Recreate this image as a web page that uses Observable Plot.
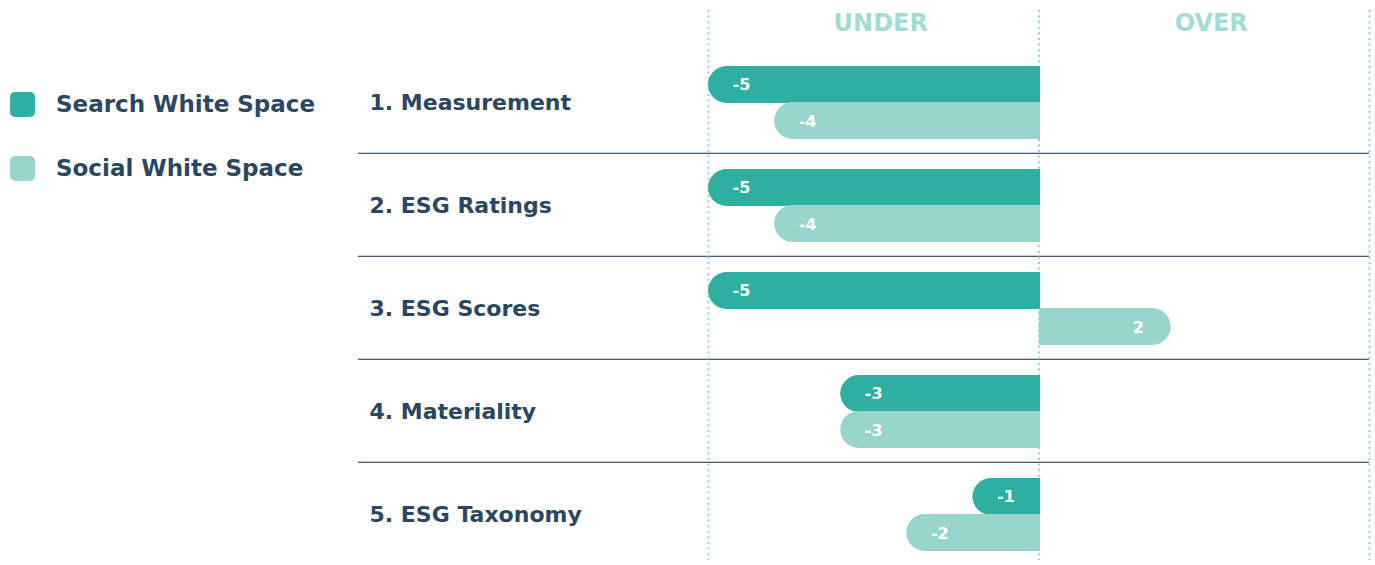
<!DOCTYPE html>
<html><head><meta charset="utf-8">
<script src="https://cdn.jsdelivr.net/npm/d3@7"></script>
<script src="https://cdn.jsdelivr.net/npm/@observablehq/plot@0.6"></script>
<style>
body{margin:0;background:#fff;font-family:"DejaVu Sans", sans-serif;}
#wrap{position:relative;width:1375px;height:565px;overflow:hidden;}
#chart{position:absolute;left:0;top:0;}
#legend{position:absolute;left:10px;top:0;}
.item{position:absolute;left:0;display:flex;align-items:center;white-space:nowrap;font-weight:700;font-size:23px;color:#2B4760;height:26px;}
.sw{width:25px;height:25px;border-radius:5px;margin-right:21px;flex:none;}
</style></head><body>
<div id="wrap"><div id="chart"></div><div id="legend"></div></div>
<script>
const categories = ["1. Measurement","2. ESG Ratings","3. ESG Scores","4. Materiality","5. ESG Taxonomy"];
const seriesNames = ["Search White Space","Social White Space"];
const searchValues = [-5,-5,-5,-3,-1];
const socialValues = [-4,-4,2,-3,-2];
const sideLabels = ["UNDER","OVER"];
const sideCenters = [-2.5, 2.5];
const gridValues = [-5, 0, 5];

const colors = ["#2EAFA2", "#97D5CD"];
const navy = "#2B4760";

const rows = categories.flatMap((c, i) => [
  {category: c, series: seriesNames[0], value: searchValues[i]},
  {category: c, series: seriesNames[1], value: socialValues[i]}
]);
const dark = rows.filter(d => d.series === seriesNames[0]);
const light = rows.filter(d => d.series === seriesNames[1]);

const Y0 = 51, Y1 = 566;
const bw = (Y1 - Y0) / categories.length;
const barH = 37, outer = 15;
const inner = bw - outer - barH;

const barOpts = (top, bottom) => ({x2: 0, y: "category", fill: "series", insetTop: top, insetBottom: bottom});
const squareOpts = (top, bottom) => ({...barOpts(top, bottom), x1: d => d.value / 2, shapeRendering: "crispEdges", insetRight: -1});
const labelFont = {fill: "white", fontWeight: 700, fontSize: 16};

const chart = Plot.plot({
  width: 1375, height: 565,
  marginLeft: 358, marginRight: 6, marginTop: 10, marginBottom: 5,
  x: {domain: [-5, 5], range: [708, 1369], axis: null},
  y: {domain: categories, range: [Y0, Y1], padding: 0, axis: null},
  color: {domain: seriesNames, range: colors},
  style: {fontFamily: "'DejaVu Sans', sans-serif", background: "white", overflow: "visible"},
  marks: [
    Plot.cell(categories.slice(0, -1), {y: d => d, insetTop: bw - 1.3, fill: "#4A6079"}),
    Plot.ruleX(gridValues, {stroke: "#86D6CB", strokeWidth: 2, strokeDasharray: "2 3.6"}),
    Plot.text(sideLabels, {x: (d, i) => sideCenters[i], text: d => d, frameAnchor: "top", dy: 3, dx: 7, fill: "#A3DCD4", fontWeight: 700, fontSize: 24}),
    Plot.text(categories, {y: d => d, text: d => d, frameAnchor: "left", dx: 11, textAnchor: "start", fill: navy, fontWeight: 700, fontSize: 22}),
    Plot.barX(dark, {...barOpts(outer, inner), x1: "value", rx: barH / 2}),
    Plot.barX(dark, squareOpts(outer, inner)),
    Plot.barX(light, {...barOpts(inner, outer), x1: "value", rx: barH / 2}),
    Plot.barX(light, squareOpts(inner, outer)),
    Plot.text(dark, {filter: d => d.value < 0, x: "value", y: "category", text: d => String(d.value), dx: 33, dy: -18.5, ...labelFont}),
    Plot.text(dark, {filter: d => d.value > 0, x: "value", y: "category", text: d => String(d.value), dx: -33, dy: -18.5, ...labelFont}),
    Plot.text(light, {filter: d => d.value < 0, x: "value", y: "category", text: d => String(d.value), dx: 33, dy: 18.5, ...labelFont}),
    Plot.text(light, {filter: d => d.value > 0, x: "value", y: "category", text: d => String(d.value), dx: -33, dy: 18.5, ...labelFont})
  ]
});
document.getElementById("chart").appendChild(chart);

const legend = document.getElementById("legend");
const legendY = [104, 168];
seriesNames.forEach((s, i) => {
  const item = document.createElement("div");
  item.className = "item";
  item.style.top = (legendY[i] - 13) + "px";
  const sw = document.createElement("div");
  sw.className = "sw";
  sw.style.background = colors[i];
  const t = document.createElement("span");
  t.textContent = s;
  item.appendChild(sw);
  item.appendChild(t);
  legend.appendChild(item);
});
</script>
</body></html>
